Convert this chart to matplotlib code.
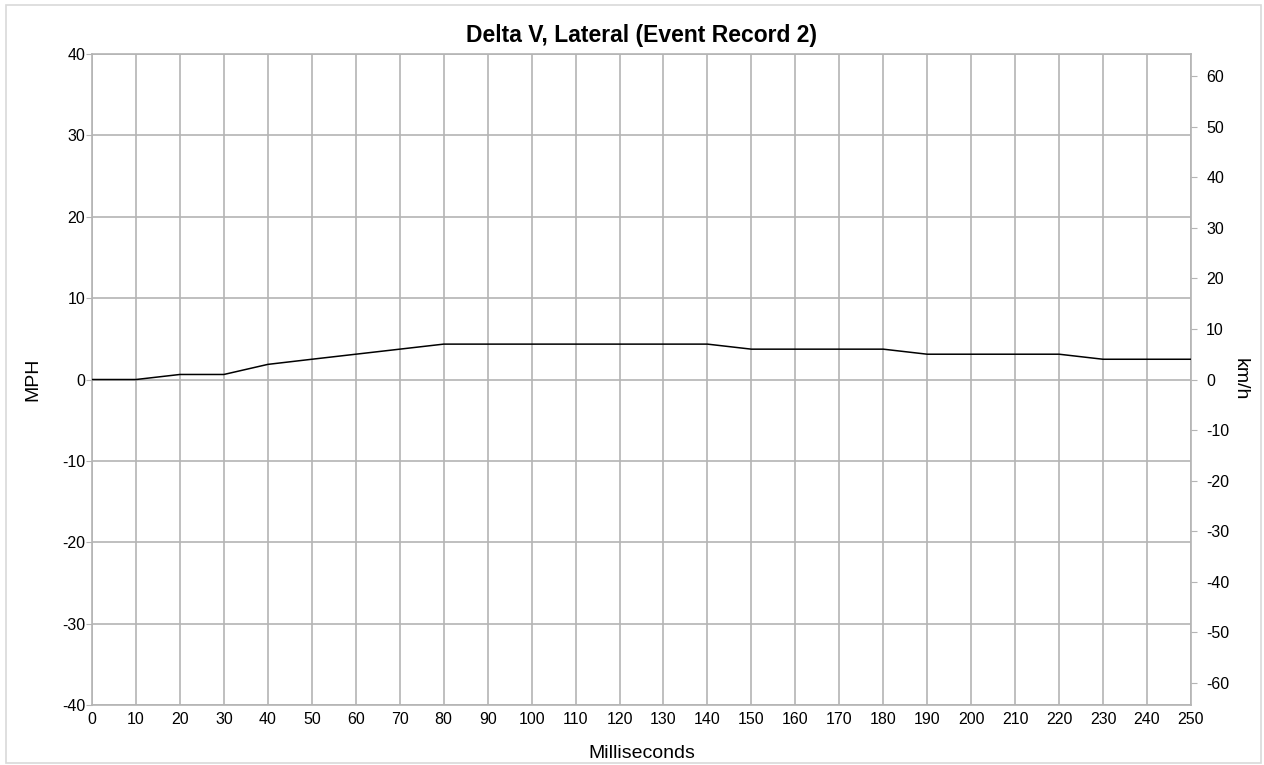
import matplotlib

matplotlib.use("Agg")
import matplotlib.pyplot as plt
from matplotlib.patches import Rectangle

plt.rcParams["font.family"] = ["Liberation Sans", "DejaVu Sans"]
plt.rcParams["axes.unicode_minus"] = False

MPH_TO_KMH = 1.609344

# time (ms) and lateral delta-V (MPH)
time_ms = [0, 10, 20, 30, 40, 50, 60, 70, 80, 90, 100, 110, 120, 130, 140,
           150, 160, 170, 180, 190, 200, 210, 220, 230, 240, 250]
delta_v_mph = [0.0, 0.0, 0.62, 0.62, 1.86, 2.49, 3.11, 3.73, 4.35, 4.35, 4.35, 4.35, 4.35, 4.35, 4.35,
               3.73, 3.73, 3.73, 3.73, 3.11, 3.11, 3.11, 3.11, 2.49, 2.49, 2.49]

x_ticks = list(range(0, 251, 10))
mph_ticks = list(range(-40, 41, 10))
kmh_ticks = list(range(-60, 61, 10))

GRID = "#b4b4b4"

fig = plt.figure(figsize=(12.64, 7.65), dpi=100)
ax = fig.add_axes([0.0728, 0.0784, 0.8694, 0.851])
ax.plot(time_ms, delta_v_mph, color="black", lw=1.1, zorder=3)

ax.set_xlim(0, 250)
ax.set_ylim(-40, 40)
ax.set_xticks(x_ticks)
ax.set_yticks(mph_ticks)
ax.grid(True, color=GRID, lw=1.2)
for s in ax.spines.values():
    s.set_color(GRID)
    s.set_linewidth(1.2)
ax.tick_params(axis="x", length=0, labelsize=11.5, pad=5)
ax.tick_params(axis="y", length=4, color=GRID, labelsize=11.5, pad=1)
ax.set_xlabel("Milliseconds", fontsize=14, labelpad=13)
ax.set_ylabel("MPH", fontsize=14, labelpad=15)
ax.set_title("Delta V, Lateral (Event Record 2)", fontsize=16.5, fontweight="bold", pad=9)

ax2 = ax.twinx()
ax2.set_ylim(-40 * MPH_TO_KMH, 40 * MPH_TO_KMH)
ax2.set_yticks(kmh_ticks)
ax2.tick_params(axis="y", length=4, color=GRID, labelsize=11.5, pad=7)
for s in ax2.spines.values():
    s.set_visible(False)
ax2.set_ylabel("km/h", fontsize=14, rotation=-90, labelpad=14)

fig.patches.append(Rectangle((0.005, 0.003), 0.993, 0.99, transform=fig.transFigure,
                             fill=False, edgecolor="#d9d9d9", lw=1.2))

fig.savefig("out.png", dpi=100)
